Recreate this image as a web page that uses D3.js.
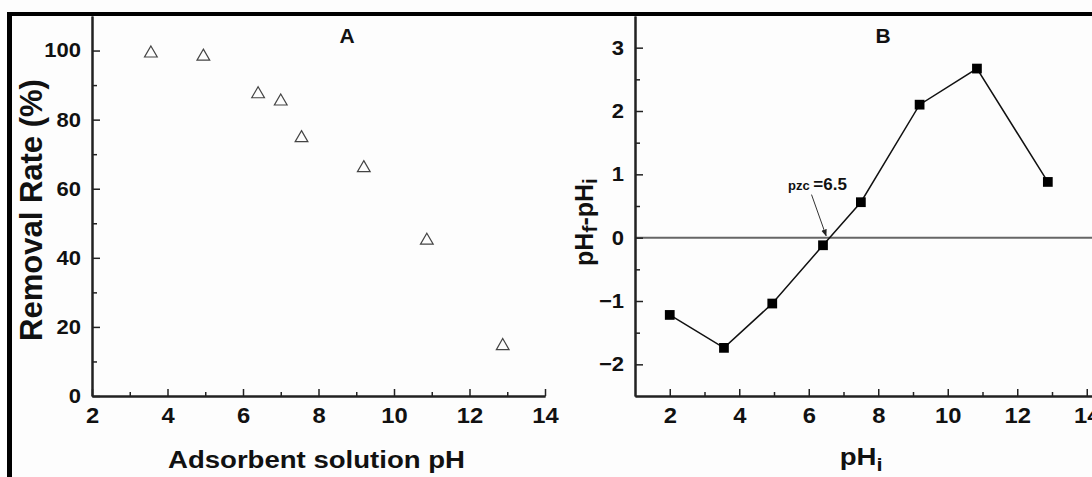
<!DOCTYPE html>
<html>

<head>
    <meta charset="UTF-8">
    <style>
        body {
            margin: 0;
            background: #fff;
        }

        svg text {
            font-family: "Liberation Sans", Arial, sans-serif;
            font-weight: bold;
            fill: #111;
        }

        .axis path,
        .axis line {
            stroke: #222;
        }

        .axis path {
            stroke-width: 2;
        }

        .axis line {
            stroke-width: 1.5;
        }
    </style>
    <title>pH effect</title>
</head>

<body>
    <svg id="chart" width="1092" height="477"></svg>

    <script src="https://cdn.jsdelivr.net/npm/d3@7"></script>
    <script>
        // panel A: removal rate vs solution pH
        const phA = [3.56, 4.95, 6.4, 7.0, 7.55, 9.2, 10.87, 12.88];
        const removalRate = [99.2, 98.3, 87.4, 85.3, 74.7, 66, 45, 14.5];

        // panel B: pHf - pHi vs pHi
        const phB = [2, 3.56, 4.95, 6.41, 7.5, 9.19, 10.84, 12.88];
        const deltaPh = [-1.22, -1.74, -1.04, -0.12, 0.56, 2.1, 2.67, 0.88];

        const xTicksA = [2, 4, 6, 8, 10, 12, 14];
        const xMinorA = [3, 5, 7, 9, 11, 13];
        const yTicksA = [0, 20, 40, 60, 80, 100];
        const yMinorA = [10, 30, 50, 70, 90];

        const xTicksB = [2, 4, 6, 8, 10, 12, 14];
        const xMinorB = [3, 5, 7, 9, 11, 13];
        const yTicksB = [-2, -1, 0, 1, 2, 3];
        const yMinorB = [-1.5, -0.5, 0.5, 1.5, 2.5];

        const pzc = 6.5;

        const svg = d3.select("#chart");

        svg.append("rect")
            .attr("width", 1092).attr("height", 477)
            .attr("fill", "#fdfdfd");

        // outer frame (top and left only, the rest is cut off)
        svg.append("rect").attr("x", 7).attr("y", 12).attr("width", 1085).attr("height", 4).attr("fill", "#000");
        svg.append("rect").attr("x", 7).attr("y", 12).attr("width", 5).attr("height", 465).attr("fill", "#000");

        const plotTop = 16, plotBottom = 396;
        const fmt = d3.format("d");

        function drawAxes(x, y, xt, xm, yt, ym) {
            svg.append("g").attr("class", "axis")
                .attr("transform", `translate(0,${plotBottom})`)
                .call(d3.axisBottom(x).tickValues(xm).tickSizeInner(-4).tickSizeOuter(0).tickFormat(""));
            svg.append("g").attr("class", "axis")
                .attr("transform", `translate(${x.range()[0]},0)`)
                .call(d3.axisLeft(y).tickValues(ym).tickSizeInner(-5).tickSizeOuter(0).tickFormat(""));

            const gx = svg.append("g").attr("class", "axis")
                .attr("transform", `translate(0,${plotBottom})`)
                .call(d3.axisBottom(x).tickValues(xt).tickFormat(fmt)
                    .tickSizeInner(-7).tickSizeOuter(0).tickPadding(11));
            gx.selectAll("text")
                .style("font-size", "22px")
                .attr("transform", "scale(1.08,1)");

            const gy = svg.append("g").attr("class", "axis")
                .attr("transform", `translate(${x.range()[0]},0)`)
                .call(d3.axisLeft(y).tickValues(yt).tickFormat(fmt)
                    .tickSizeInner(-8).tickSizeOuter(0).tickPadding(10));
            gy.selectAll("text")
                .style("font-size", "20px")
                .attr("transform", "scale(1.1,1)");

            [gx, gy].forEach(g => {
                g.attr("font-family", null).attr("font-size", null);
                g.selectAll("text").attr("fill", "#111");
            });
        }

        // ---------- panel A ----------
        const xA = d3.scaleLinear().domain([2, 14]).range([92, 545]);
        const yA = d3.scaleLinear().domain([0, 110]).range([plotBottom, plotTop]);

        drawAxes(xA, yA, xTicksA, xMinorA, yTicksA, yMinorA);

        svg.append("g")
            .selectAll("path")
            .data(phA)
            .join("path")
            .attr("d", d3.symbol(d3.symbolTriangle).size(70))
            .attr("transform", (d, i) => `translate(${xA(d)},${yA(removalRate[i])})`)
            .attr("fill", "none")
            .attr("stroke", "#444")
            .attr("stroke-width", 1.2);

        svg.append("text")
            .attr("x", 347).attr("y", 43)
            .attr("text-anchor", "middle")
            .style("font-size", "21px")
            .text("A");

        svg.append("text")
            .attr("transform", "translate(42,210) rotate(-90)")
            .attr("text-anchor", "middle")
            .style("font-size", "31px")
            .text("Removal Rate (%)");

        svg.append("text")
            .attr("x", 168).attr("y", 468)
            .attr("textLength", 297)
            .attr("lengthAdjust", "spacingAndGlyphs")
            .style("font-size", "23px")
            .text("Adsorbent solution pH");

        // ---------- panel B ----------
        const xB = d3.scaleLinear().domain([1, 14.2]).range([635, 635 + 13.2 * 34.75]);
        const yB = d3.scaleLinear().domain([-2.5, 3.5]).range([plotBottom, plotTop]);

        // zero line
        svg.append("line")
            .attr("x1", xB(1)).attr("x2", 1092)
            .attr("y1", yB(0)).attr("y2", yB(0))
            .attr("stroke", "#666")
            .attr("stroke-width", 2);

        drawAxes(xB, yB, xTicksB, xMinorB, yTicksB, yMinorB);

        const ptsB = phB.map((d, i) => [d, deltaPh[i]]);

        svg.append("path")
            .datum(ptsB)
            .attr("fill", "none")
            .attr("stroke", "#111")
            .attr("stroke-width", 1.5)
            .attr("d", d3.line().x(d => xB(d[0])).y(d => yB(d[1])));

        svg.append("g")
            .selectAll("path")
            .data(ptsB)
            .join("path")
            .attr("d", d3.symbol(d3.symbolSquare).size(95))
            .attr("transform", d => `translate(${xB(d[0])},${yB(d[1])})`)
            .attr("fill", "#000");

        svg.append("text")
            .attr("x", 883).attr("y", 43)
            .attr("text-anchor", "middle")
            .style("font-size", "21px")
            .text("B");

        // y label pHf-pHi
        const yl = svg.append("text")
            .attr("transform", "translate(593,222) rotate(-90)")
            .attr("text-anchor", "middle")
            .style("font-size", "25px");
        yl.append("tspan").text("pH");
        yl.append("tspan").attr("dy", 4).style("font-size", "21px").text("f");
        yl.append("tspan").attr("dy", -4).text("-pH");
        yl.append("tspan").attr("dy", 4).style("font-size", "21px").text("i");

        // x label pHi
        const xl = svg.append("text")
            .attr("x", 861).attr("y", 465)
            .attr("text-anchor", "middle")
            .attr("transform", "translate(-129,0) scale(1.15,1)")
            .style("font-size", "24px");
        xl.append("tspan").text("pH");
        xl.append("tspan").attr("dy", 6).style("font-size", "19px").text("i");

        // pzc annotation with arrow
        svg.append("defs").append("marker")
            .attr("id", "arrow")
            .attr("viewBox", "0 0 10 10")
            .attr("refX", 9).attr("refY", 5)
            .attr("markerWidth", 7).attr("markerHeight", 7)
            .attr("orient", "auto")
            .append("path")
            .attr("d", "M0,1 L10,5 L0,9 z")
            .attr("fill", "#222");

        svg.append("line")
            .attr("x1", xB(6.08)).attr("y1", yB(0.68))
            .attr("x2", xB(pzc)).attr("y2", yB(0.03))
            .attr("stroke", "#333")
            .attr("stroke-width", 1)
            .attr("marker-end", "url(#arrow)");

        const ann = svg.append("text")
            .attr("x", 788).attr("y", 190);
        ann.append("tspan").style("font-size", "13px").text("pzc ");
        ann.append("tspan").style("font-size", "17px").text("=6.5");
    </script>
</body>

</html>
